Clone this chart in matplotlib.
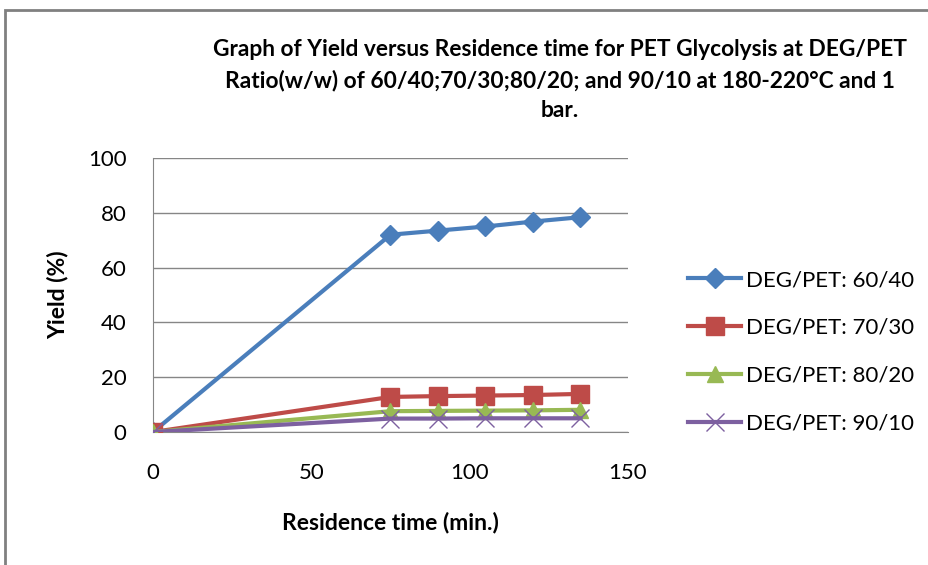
import numpy as np
import matplotlib
matplotlib.use("Agg")
import matplotlib.pyplot as plt
from matplotlib.patches import Rectangle

plt.rcParams['font.family'] = ['Lato', 'DejaVu Sans']

# residence time (min.)
time = [0, 75, 90, 105, 120, 135]
# yield (%) for each DEG/PET ratio
y_60_40 = [0, 72, 73.5, 75, 76.8, 78.4]
y_70_30 = [0, 12.8, 13.1, 13.3, 13.5, 13.9]
y_80_20 = [0, 7.6, 7.7, 7.8, 7.9, 8.1]
y_90_10 = [0, 4.9, 4.9, 5.0, 5.0, 5.0]
labels = ["DEG/PET: 60/40", "DEG/PET: 70/30", "DEG/PET: 80/20", "DEG/PET: 90/10"]

title = ("Graph of Yield versus Residence time for PET Glycolysis at DEG/PET\n"
         "Ratio(w/w) of 60/40;70/30;80/20; and 90/10 at 180-220\u00b0C and 1\nbar.")

fig = plt.figure(figsize=(9.29, 5.65), dpi=100)
W, H = 929, 565
ax = fig.add_axes([153 / W, 1 - 432 / H, (628 - 153) / W, (432 - 158) / H])

# outer chart frame (cut off at right and bottom like the source image)
fig.patches.append(Rectangle((5 / W, -0.1), 1.2, 1 - 10 / H + 0.1,
                             transform=fig.transFigure, fill=False,
                             edgecolor='#808080', linewidth=2))

# later series drawn on top, like excel
ax.plot(time, y_60_40, color='#4a7ebb', lw=3, marker='D', ms=10, label=labels[0], zorder=2)
ax.plot(time, y_70_30, color='#be4b48', lw=3, marker='s', ms=13, label=labels[1], zorder=3)
ax.plot(time, y_80_20, color='#98b954', lw=3, marker='^', ms=11, label=labels[2], zorder=4)
ax.plot(time, y_90_10, color='#7d60a0', lw=3, marker='x', ms=13, mew=1, label=labels[3], zorder=5)

ax.set_xlim(0, 150)
ax.set_ylim(0, 100)
ax.set_xticks([0, 50, 100, 150])
ax.set_yticks(np.arange(0, 101, 20))
ax.yaxis.grid(True, color='#868686', lw=1)
ax.set_axisbelow(True)
for s in ['top', 'right']:
    ax.spines[s].set_visible(False)
for s in ['left', 'bottom']:
    ax.spines[s].set_color('#868686')
ax.tick_params(length=0, labelsize=16)
ax.tick_params(axis='y', pad=19)
ax.tick_params(axis='x', pad=22)

ax.set_xlabel("Residence time (min.)", fontsize=16.5, fontweight='bold', labelpad=21)
ax.set_ylabel("Yield (%)", fontsize=16.5, fontweight='bold', labelpad=14)
fig.text(560 / W, 1 - 80 / H, title, ha='center', va='center', fontsize=16.4,
         fontweight='bold', linespacing=1.55)

ax.legend(loc='center left', bbox_to_anchor=((688 - 153) / 475, 0.293), frameon=False,
          fontsize=16, handlelength=2.4, labelspacing=1.25, handletextpad=0.23,
          borderpad=0, borderaxespad=0)

fig.savefig("out.png", dpi=100)
